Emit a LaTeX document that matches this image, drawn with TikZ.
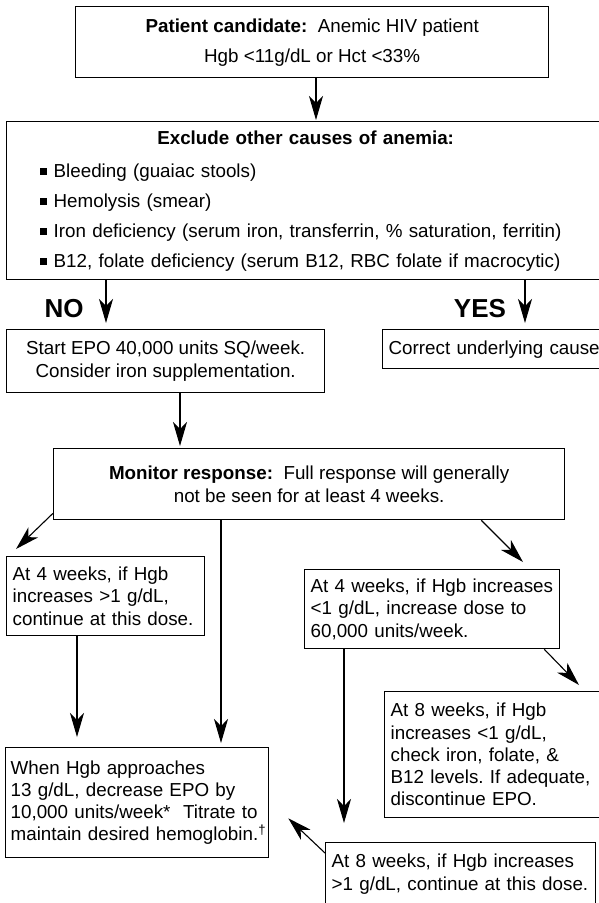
\documentclass[tikz,border=0pt]{standalone}
\usepackage{fontspec}
\setmainfont{Liberation Sans}
\usetikzlibrary{arrows.meta}
\newcommand{\sqbul}{\rule[2pt]{7pt}{7pt}\hspace{7pt}}
\frenchspacing
\begin{document}
\begin{tikzpicture}[x=1pt,y=-1pt,
  box/.style={draw=black, line width=1.3pt, anchor=north west, inner ysep=0pt,
    font=\fontsize{18.8}{22.3}\selectfont},
  cbox/.style={box, align=center},
  lbox/.style={box, align=left, inner xsep=6pt},
  arr/.style={draw=black, line width=1.1pt, -{Stealth[length=24pt,width=14pt,inset=7pt]}},
  verdict/.style={font=\fontsize{26}{30}\selectfont\bfseries, inner sep=0pt}]
\useasboundingbox (0,0) rectangle (598,903);

% boxes
\node[cbox, minimum width=473pt, minimum height=71pt] (cand) at (75,6)
  {\textbf{Patient candidate:}\ \ Anemic HIV patient\\[7.7pt]Hgb <11g/dL or Hct <33\%};
\node[box, align=left, inner xsep=33pt, text width=532pt, minimum height=158pt] (excl) at (6,121)
  {\makebox[\linewidth][c]{\bfseries Exclude other causes of anemia:}\\[10.7pt]
   \sqbul Bleeding (guaiac stools)\\[7.7pt]
   \sqbul Hemolysis (smear)\\[7.7pt]
   \sqbul Iron deficiency (serum iron, transferrin, \% saturation, ferritin)\\[7.7pt]
   \sqbul B12, folate deficiency (serum B12, RBC folate if macrocytic)};
\node[cbox, minimum width=318pt, minimum height=63pt] (epo) at (6,329)
  {Start EPO 40,000 units SQ/week.\\Consider iron supplementation.};
\node[lbox, text width=218pt, minimum height=39pt] (cause) at (382,329)
  {Correct underlying cause};
\node[cbox, minimum width=511pt, minimum height=71pt] (mon) at (53,448)
  {\textbf{Monitor response:}\ \ Full response will generally\\not be seen for at least 4 weeks.};
\node[lbox, text width=186pt, minimum height=79pt] (fourhi) at (6,556)
  {At 4 weeks, if Hgb\\increases >1 g/dL,\\continue at this dose.};
\node[lbox, text width=243pt, minimum height=79pt] (fourlo) at (304,569)
  {\mbox{At 4 weeks, if Hgb increases}\\<1 g/dL, increase dose to\\60,000 units/week.};
\node[lbox, inner xsep=5pt, text width=253pt, minimum height=110pt] (titr) at (5,747)
  {When Hgb approaches\\13 g/dL, decrease EPO by\\\mbox{10,000 units/week*\ \ Titrate to}\\\mbox{maintain desired hemoglobin.\textsuperscript{†}}};
\node[lbox, text width=212pt, minimum height=126pt] (eightlo) at (384,691)
  {At 8 weeks, if Hgb\\increases <1 g/dL,\\check iron, folate, \&\\B12 levels. If adequate,\\discontinue EPO.};
\node[lbox, text width=258pt, minimum height=63pt] (eighthi) at (325,842)
  {At 8 weeks, if Hgb increases\\\mbox{>1 g/dL, continue at this dose.}};

% branch labels
\node[verdict] (no) at (64,309) {NO};
\node[verdict] (yes) at (480,309) {YES};

% connectors
\coordinate (a1) at ([xshift=241pt]cand.south west);
\draw[arr, shorten >=1pt] (a1) -- (a1 |- excl.north);
\coordinate (a2) at ([xshift=100pt]excl.south west);
\draw[arr, shorten >=6pt] (a2) -- (a2 |- epo.north);
\coordinate (a3) at ([xshift=519pt]excl.south west);
\draw[arr, shorten >=6pt] (a3) -- (a3 |- cause.north);
\coordinate (a4) at ([xshift=174pt]epo.south west);
\draw[arr, shorten >=2pt] (a4) -- (a4 |- mon.north);
\draw[arr] ([yshift=7pt]mon.south west) -- ([xshift=10pt,yshift=7pt]fourhi.north west);
\coordinate (a5) at ([xshift=168pt]mon.south west);
\draw[arr, shorten >=4pt] (a5) -- (a5 |- titr.north);
\draw[arr] ([xshift=-84pt]mon.south east) -- ([xshift=219pt,yshift=7pt]fourlo.north west);
\coordinate (a6) at ([xshift=71pt]fourhi.south west);
\draw[arr, shorten >=10pt] (a6) -- (a6 |- titr.north);
\coordinate (a7) at ([xshift=40pt]fourlo.south west);
\draw[arr, shorten >=19pt] (a7) -- (a7 |- eighthi.north);
\draw[arr] ([xshift=-16pt]fourlo.south east) -- ([xshift=195pt,yshift=6pt]eightlo.north west);
\draw[arr] ([yshift=-11pt]eighthi.north west) -- ([xshift=19pt,yshift=40pt]titr.south east);
\end{tikzpicture}
\end{document}
